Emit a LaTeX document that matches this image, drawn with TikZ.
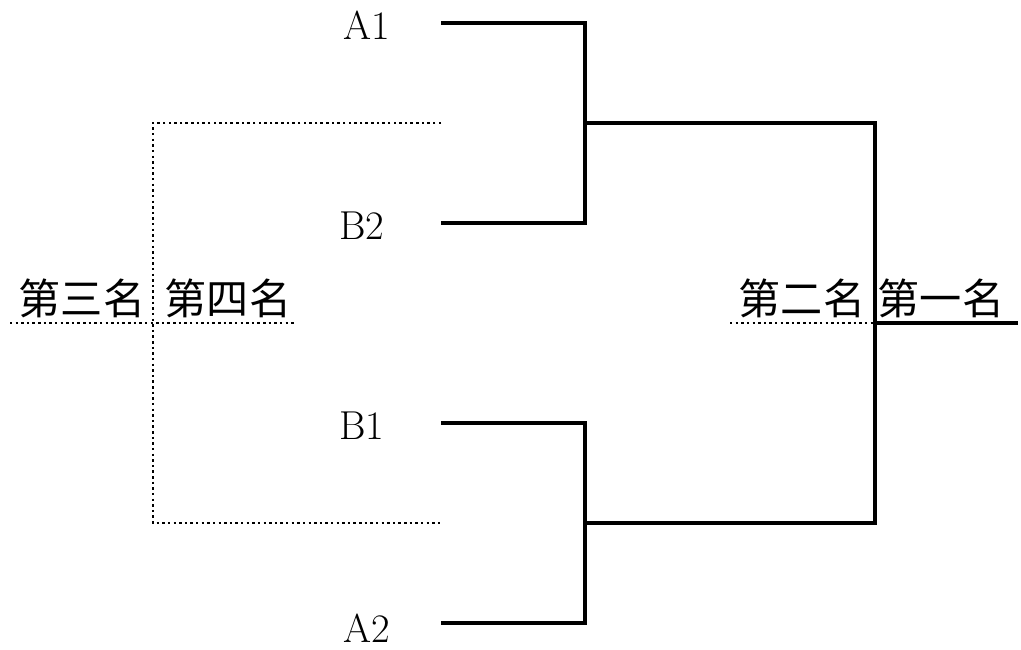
\documentclass[tikz,border=0pt]{standalone}
\usepackage{fontspec}
\newfontfamily\cjk{Noto Sans CJK SC}
\usetikzlibrary{positioning}

\begin{document}
\begin{tikzpicture}
	[t/.style= {font=\fontsize{23}{26}\selectfont,inner sep=1pt},
	 c/.style= {font=\cjk\fontsize{24}{26}\selectfont,inner sep=1pt},
	 win/.style= {line width=2.3pt},
	 lose/.style= {line width=1.4pt,dash pattern=on 1.4pt off 1.8pt}]

	\useasboundingbox (0,0) rectangle (20.42,12.98);

	% team names
	\node[t] (a1) at (7.34,12.48) {A1};
	\node[t] (b2) at (7.24,8.46) {B2};
	\node[t] (b1) at (7.24,4.46) {B1};
	\node[t] (a2) at (7.34,0.42) {A2};

	% bracket points
	\coordinate (a1s) at (8.82,12.52);
	\coordinate (a1e) at (11.7,12.52);
	\coordinate (b2s) at (8.82,8.52);
	\coordinate (b2e) at (11.7,8.52);
	\coordinate (s1) at (11.7,10.52);
	\coordinate (s1e) at (17.5,10.52);
	\coordinate (b1s) at (8.82,4.52);
	\coordinate (b1e) at (11.7,4.52);
	\coordinate (a2s) at (8.82,0.52);
	\coordinate (a2e) at (11.7,0.52);
	\coordinate (s2) at (11.7,2.52);
	\coordinate (s2e) at (17.5,2.52);
	\coordinate (f) at (17.5,6.52);
	\coordinate (first) at (20.36,6.52);
	\coordinate (second) at (14.6,6.52);

	% third place match
	\coordinate (l1) at (8.82,10.52);
	\coordinate (l1c) at (3.06,10.52);
	\coordinate (l2) at (8.82,2.52);
	\coordinate (l2c) at (3.06,2.52);
	\coordinate (m) at (3.06,6.52);
	\coordinate (third) at (0.2,6.52);
	\coordinate (fourth) at (5.92,6.52);

	\draw[win] (a1s) -- (a1e) -- (b2e) -- (b2s);
	\draw[win] (b1s) -- (b1e) -- (a2e) -- (a2s);
	\draw[win] (s1) -- (s1e) -- (s2e) -- (s2);
	\draw[win] (f) -- (first);
	\draw[lose] (second) -- (f);

	\draw[lose] (l1) -- (l1c) -- (l2c) -- (l2);
	\draw[lose] (third) -- (fourth);

	% places
	\node[c] (p3) at (1.64,7.02) {第三名};
	\node[c] (p4) at (4.56,7.02) {第四名};
	\node[c] (p2) at (16.04,7.02) {第二名};
	\node[c] (p1) at (18.82,7.02) {第一名};

\end{tikzpicture}
\end{document}
